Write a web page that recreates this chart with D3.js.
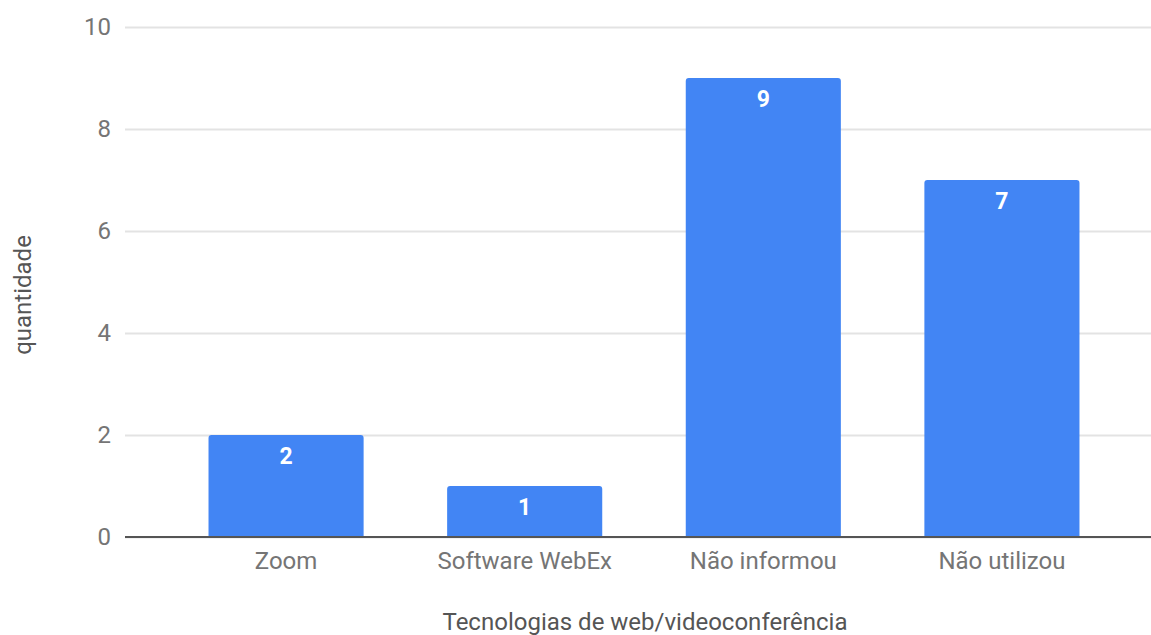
<!DOCTYPE html>
<html>
<head>
<meta charset="utf-8">
<script src="https://cdn.jsdelivr.net/npm/d3@7"></script>
<style>
  body { margin: 0; background: #fff; }
  text { font-family: Roboto, "Noto Sans", sans-serif; }
</style>
</head>
<body>
<div id="chart-area"></div>
<script>
// data
const categories = ["Zoom", "Software WebEx", "Não informou", "Não utilizou"]
const values = [2, 1, 9, 7]
const yTicks = [0, 2, 4, 6, 8, 10]

const W = 1151, H = 635
const PLOT = {LEFT: 125, RIGHT: 1151, TOP: 27, BOTTOM: 537}

const svg = d3.select("#chart-area").append("svg")
    .attr("width", W)
    .attr("height", H)

const x = d3.scaleBand()
    .domain(categories)
    .range([PLOT.LEFT, 1163])
    .paddingInner(0.35)
    .paddingOuter(0.35)

const y = d3.scaleLinear()
    .domain([0, 10])
    .range([PLOT.BOTTOM, PLOT.TOP])

// gridlines + y labels
const yAxis = d3.axisLeft(y)
    .tickValues(yTicks)
    .tickSize(-(PLOT.RIGHT - PLOT.LEFT))
    .tickPadding(14)
svg.append("g")
    .attr("transform", `translate(${PLOT.LEFT},0)`)
    .call(yAxis)
    .call(g => g.select(".domain").remove())
    .call(g => g.selectAll("line").attr("stroke", "#e3e3e3").attr("stroke-width", 2))
    .call(g => g.selectAll("text")
        .attr("fill", "#757575")
        .attr("font-size", "24px"))

// bars
const rows = categories.map((c, i) => ({name: c, value: values[i]}))
svg.selectAll("path.bar")
    .data(rows)
    .enter()
    .append("path")
    .attr("class", "bar")
    .attr("fill", "#4285f4")
    .attr("d", d => {
        const x0 = x(d.name), x1 = x0 + x.bandwidth()
        const y0 = y(d.value), y1 = y(0), r = 3
        return `M${x0},${y1} V${y0 + r} Q${x0},${y0} ${x0 + r},${y0} H${x1 - r} Q${x1},${y0} ${x1},${y0 + r} V${y1} Z`
    })

// value labels
svg.selectAll(".data-label")
    .data(rows)
    .enter()
    .append("text")
    .attr("class", "data-label")
    .attr("x", d => x(d.name) + x.bandwidth() / 2)
    .attr("y", d => y(d.value) + 29)
    .attr("text-anchor", "middle")
    .attr("fill", "#ffffff")
    .attr("font-weight", "bold")
    .attr("font-size", "23px")
    .text(d => d.value)

// x axis
const xAxis = d3.axisBottom(x).tickSize(0).tickPadding(15)
svg.append("g")
    .attr("transform", `translate(0,${PLOT.BOTTOM})`)
    .call(xAxis)
    .call(g => g.select(".domain").remove())
    .call(g => g.selectAll("text")
        .attr("fill", "#757575")
        .attr("font-size", "24px"))

svg.append("line")
    .attr("x1", PLOT.LEFT).attr("x2", PLOT.RIGHT)
    .attr("y1", PLOT.BOTTOM).attr("y2", PLOT.BOTTOM)
    .attr("stroke", "#555")
    .attr("stroke-width", 2)

// axis titles
svg.append("text")
    .attr("x", 645)
    .attr("y", 630)
    .attr("text-anchor", "middle")
    .attr("fill", "#555")
    .attr("font-size", "24px")
    .text("Tecnologias de web/videoconferência")

svg.append("text")
    .attr("transform", "translate(31,295) rotate(-90)")
    .attr("text-anchor", "middle")
    .attr("fill", "#555")
    .attr("font-size", "24px")
    .text("quantidade")
</script>
</body>
</html>
